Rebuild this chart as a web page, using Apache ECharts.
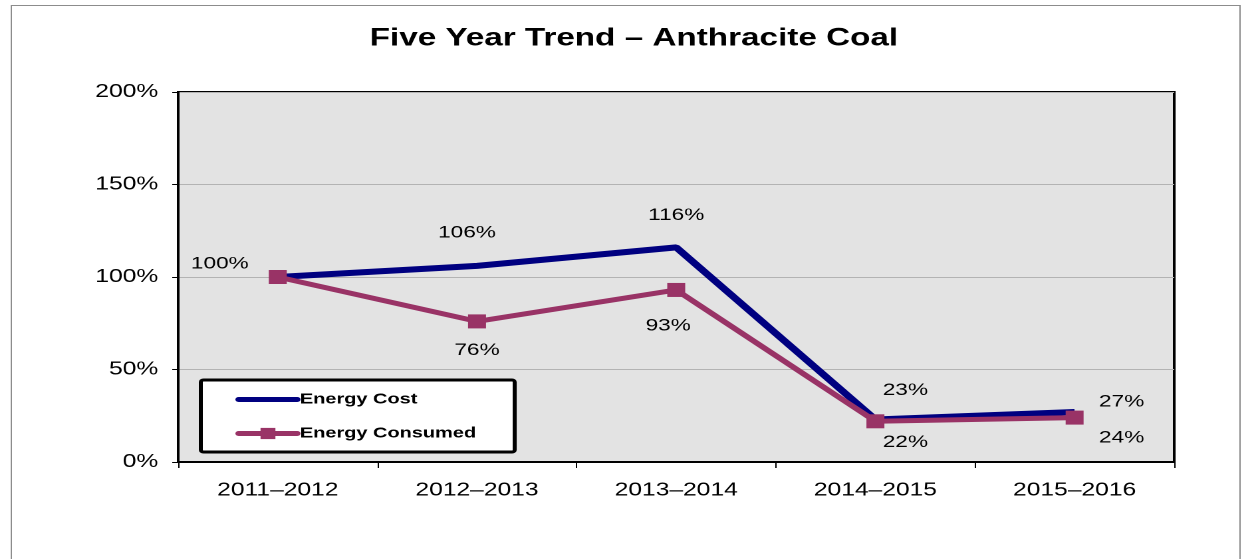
<!DOCTYPE html>
<html>
<head>
<meta charset="utf-8">
<script src="https://cdn.jsdelivr.net/npm/echarts@6/dist/echarts.min.js"></script>
<style>
html,body{margin:0;padding:0;background:#fff;overflow:hidden;width:1242px;height:559px;}
#c{width:934px;height:559px;transform:scaleX(1.3298);transform-origin:0 0;}
</style>
</head>
<body>
<div id="c"></div>
<script>
var categories = ['2011\u20132012', '2012\u20132013', '2013\u20132014', '2014\u20132015', '2015\u20132016'];
var energyCost = [100, 106, 116, 23, 27];
var energyConsumed = [100, 76, 93, 22, 24];
var yTicks = [0, 50, 100, 150, 200];

// The reference text is horizontally stretched; the chart is drawn narrower and widened by CSS.
var K = 1.3298;
// label placement offsets (reference px), relative to point centre
var costLabelOffsets = [[-58, -13], [-10, -33], [0, -32], [30, -29], [47, -10]];
var consumedLabelOffsets = [null, [0, 29], [-8, 36], [30, 21], [47, 20]];

var FONT = 'Liberation Sans, Arial, sans-serif';
var labelFont = { fontFamily: FONT, fontSize: 17, color: '#000' };

function buildData(values, offsets) {
  return values.map(function (v, i) {
    var o = offsets[i];
    return {
      value: v,
      label: o ? Object.assign({ show: true, position: 'inside', offset: [o[0] / K, o[1]], formatter: '{c}%' }, labelFont) : { show: false }
    };
  });
}

var chart = echarts.init(document.getElementById('c'), null, { devicePixelRatio: 2, width: 934, height: 559 });
chart.setOption({
  animation: false,
  backgroundColor: '#fff',
  graphic: [{
    type: 'rect', left: 6, top: 3, shape: { width: 924, height: 600 },
    style: { fill: 'none', stroke: '#8c8c8c', lineWidth: 1 }, silent: true, z: -1
  }],
  title: {
    text: 'Five Year Trend \u2013 Anthracite Coal',
    left: 273, top: 21,
    textStyle: { fontFamily: FONT, fontSize: 25, fontWeight: 'bold', color: '#000' }
  },
  legend: {
    orient: 'vertical',
    left: 151, top: 380,
    padding: [12, 29, 11, 26],
    itemGap: 19,
    itemWidth: 44, itemHeight: 14,
    backgroundColor: '#fff',
    borderColor: '#000', borderWidth: 3, borderRadius: 2,
    lineStyle: { width: 5, cap: 'round' },
    textStyle: { fontFamily: FONT, fontSize: 15, fontWeight: 'bold', color: '#000', padding: [0, 0, 0, -3] },
    data: [{ name: 'Energy Cost', itemStyle: { opacity: 0 } }, { name: 'Energy Consumed' }]
  },
  grid: {
    left: 134, right: 51, top: 92, bottom: 97,
    show: true, backgroundColor: '#e3e3e3', borderColor: '#000', borderWidth: 2
  },
  xAxis: {
    type: 'category',
    data: categories,
    boundaryGap: true,
    axisLine: { lineStyle: { color: '#000', width: 2 } },
    axisTick: { show: true, length: 6, lineStyle: { color: '#000' } },
    axisLabel: { fontFamily: FONT, fontSize: 18.5, color: '#000', margin: 19 }
  },
  yAxis: {
    type: 'value',
    min: yTicks[0], max: yTicks[yTicks.length - 1], interval: 50,
    axisLine: { show: true, lineStyle: { color: '#000', width: 2 } },
    axisTick: { show: true, length: 4.5, lineStyle: { color: '#000' } },
    splitLine: { lineStyle: { color: '#b3b3b3', width: 1 } },
    axisLabel: { formatter: '{value}%', fontFamily: FONT, fontSize: 18.5, color: '#000', margin: 15 }
  },
  series: [
    {
      name: 'Energy Cost', type: 'line',
      data: buildData(energyCost, costLabelOffsets),
      symbol: 'circle', symbolSize: 1, showSymbol: true,
      lineStyle: { color: '#000080', width: 6 },
      itemStyle: { color: '#000080' },
      z: 2
    },
    {
      name: 'Energy Consumed', type: 'line',
      data: buildData(energyConsumed, consumedLabelOffsets),
      symbol: 'rect', symbolSize: [13.5, 14],
      lineStyle: { color: '#993366', width: 5 },
      itemStyle: { color: '#993366' },
      z: 3
    }
  ]
});
</script>
</body>
</html>
